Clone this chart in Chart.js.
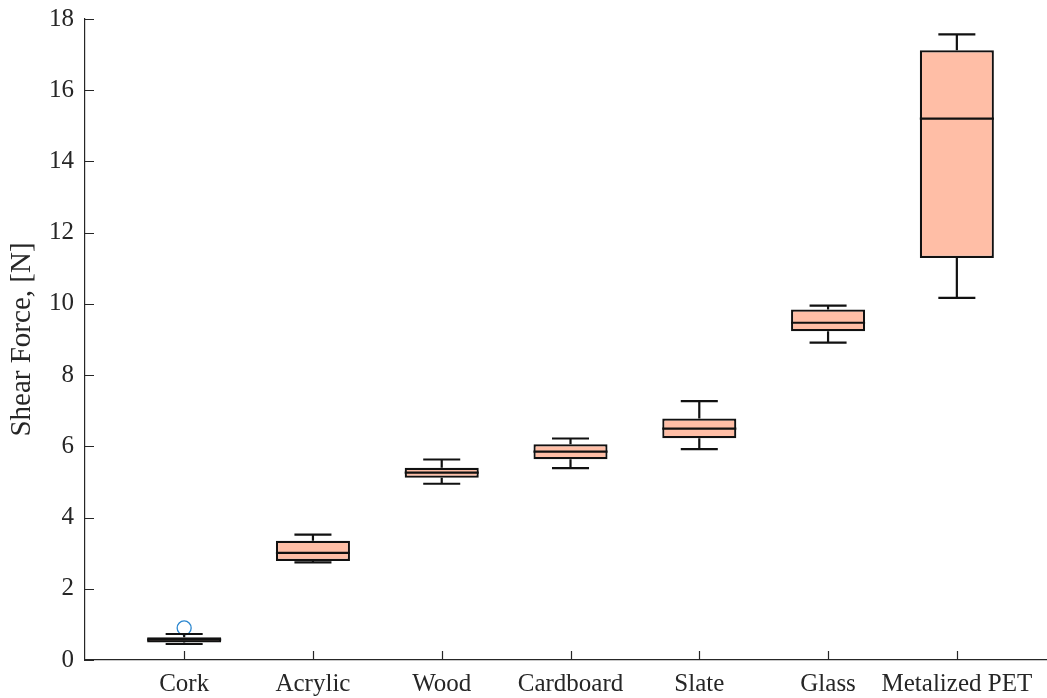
<!DOCTYPE html>
<html>
<head>
<meta charset="utf-8">
<script src="https://cdn.jsdelivr.net/npm/chart.js@4"></script>
<style>
  html, body { margin: 0; padding: 0; background: #ffffff; }
  #wrap { width: 1047px; height: 698px; }
</style>
</head>
<body>
<div id="wrap"><canvas id="c" width="1047" height="698"></canvas></div>
<script>
// Shear force per surface material: box-plot statistics (N)
const categories  = ['Cork', 'Acrylic', 'Wood', 'Cardboard', 'Slate', 'Glass', 'Metalized PET'];
const whiskerLow  = [0.45, 2.74, 4.95, 5.39, 5.92, 8.91, 10.17];
const quartile1   = [0.49, 2.78, 5.12, 5.64, 6.23, 9.23, 11.29];
const medians     = [0.57, 3.01, 5.26, 5.85, 6.50, 9.47, 15.20];
const quartile3   = [0.64, 3.35, 5.40, 6.06, 6.78, 9.84, 17.12];
const whiskerHigh = [0.73, 3.52, 5.63, 6.22, 7.27, 9.95, 17.57];
const outlierCategory = ['Cork'];
const outlierValues   = [0.90];
const yTicks = [0, 2, 4, 6, 8, 10, 12, 14, 16, 18];

const INK = '#262626';
const BOX_FILL = 'rgb(255,190,166)';
const TICK_FONT = { family: '"Liberation Serif", "DejaVu Serif", serif', size: 25 };
const TITLE_FONT = { family: '"Liberation Serif", "DejaVu Serif", serif', size: 29 };

const boxData = categories.map((c, i) => ({ x: i + 1, y: [quartile1[i], quartile3[i]] }));
const outlierData = outlierCategory.map((c, k) => ({ x: categories.indexOf(c) + 1, y: outlierValues[k] }));

// whiskers, caps and median lines drawn on top of the boxes
const boxExtras = {
  id: 'boxExtras',
  afterDatasetDraw(chart, args) {
    if (args.index !== 0) return;
    const ctx = chart.ctx;
    const xs = chart.scales.x, ys = chart.scales.y;
    const meta = chart.getDatasetMeta(0);
    ctx.save();
    ctx.strokeStyle = '#111111';
    ctx.lineWidth = 2.2;
    ctx.lineCap = 'butt';
    meta.data.forEach((bar, i) => {
      const cx = xs.getPixelForValue(i + 1);
      const half = bar.width / 2;
      const capHalf = half / 2;
      const yLo = ys.getPixelForValue(whiskerLow[i]);
      const yQ1 = ys.getPixelForValue(quartile1[i]);
      const yMed = ys.getPixelForValue(medians[i]);
      const yQ3 = ys.getPixelForValue(quartile3[i]);
      const yHi = ys.getPixelForValue(whiskerHigh[i]);
      ctx.beginPath();
      // upper whisker and cap
      ctx.moveTo(cx, yQ3); ctx.lineTo(cx, yHi);
      ctx.moveTo(cx - capHalf, yHi); ctx.lineTo(cx + capHalf, yHi);
      // lower whisker and cap
      ctx.moveTo(cx, yQ1); ctx.lineTo(cx, yLo);
      ctx.moveTo(cx - capHalf, yLo); ctx.lineTo(cx + capHalf, yLo);
      // median
      ctx.moveTo(cx - half, yMed); ctx.lineTo(cx + half, yMed);
      ctx.stroke();
    });
    ctx.restore();
  }
};

// tick marks pointing into the plot area
const innerTicks = {
  id: 'innerTicks',
  afterDraw(chart) {
    const ctx = chart.ctx;
    const area = chart.chartArea;
    const xs = chart.scales.x, ys = chart.scales.y;
    const len = 9;
    ctx.save();
    ctx.strokeStyle = INK;
    ctx.lineWidth = 1.2;
    ctx.beginPath();
    ys.ticks.forEach(t => {
      const py = Math.round(ys.getPixelForValue(t.value)) + 0.5;
      ctx.moveTo(area.left, py); ctx.lineTo(area.left + len, py);
    });
    xs.ticks.forEach(t => {
      const px = Math.round(xs.getPixelForValue(t.value)) + 0.5;
      ctx.moveTo(px, area.bottom); ctx.lineTo(px, area.bottom - len);
    });
    ctx.stroke();
    ctx.restore();
  }
};

new Chart(document.getElementById('c'), {
  type: 'bar',
  data: {
    datasets: [
      {
        label: 'Shear Force',
        data: boxData,
        backgroundColor: BOX_FILL,
        borderColor: '#111111',
        borderWidth: 2.2,
        borderSkipped: false,
        categoryPercentage: 1,
        barPercentage: 0.575
      },
      {
        type: 'scatter',
        label: 'Outliers',
        data: outlierData,
        pointStyle: 'circle',
        pointRadius: 7,
        pointBorderWidth: 1.3,
        pointBorderColor: '#2a86cf',
        pointBackgroundColor: 'rgba(0,0,0,0)'
      }
    ]
  },
  options: {
    responsive: false,
    animation: false,
    events: [],
    layout: { autoPadding: false, padding: { top: 19, right: 0, left: 0, bottom: 0 } },
    plugins: {
      legend: { display: false },
      tooltip: { enabled: false }
    },
    scales: {
      x: {
        type: 'linear',
        min: 0.23,
        max: 7.70,
        offset: false,
        afterBuildTicks(axis) {
          axis.ticks = categories.map((c, i) => ({ value: i + 1 }));
        },
        afterFit(axis) {
          axis.height = 38;
          axis.paddingLeft = 0;
          axis.paddingRight = 0;
        },
        grid: { display: true, drawOnChartArea: false, drawTicks: false, offset: false },
        border: { display: true, color: INK, width: 1.2 },
        ticks: {
          autoSkip: false,
          maxRotation: 0,
          padding: 9,
          color: INK,
          font: TICK_FONT,
          callback: (v) => categories[Math.round(v) - 1] ?? ''
        }
      },
      y: {
        min: 0,
        max: 18,
        afterBuildTicks(axis) {
          axis.ticks = yTicks.map(v => ({ value: v }));
        },
        afterFit(axis) {
          axis.width = 85;
          axis.paddingTop = 0;
          axis.paddingBottom = 0;
        },
        grid: { display: true, drawOnChartArea: false, drawTicks: false },
        border: { display: true, color: INK, width: 1.2 },
        ticks: {
          padding: 11,
          color: INK,
          font: TICK_FONT
        },
        title: {
          display: true,
          text: 'Shear Force, [N]',
          color: INK,
          font: TITLE_FONT,
          padding: { top: 5, bottom: 0 }
        }
      }
    }
  },
  plugins: [boxExtras, innerTicks]
});
</script>
</body>
</html>
